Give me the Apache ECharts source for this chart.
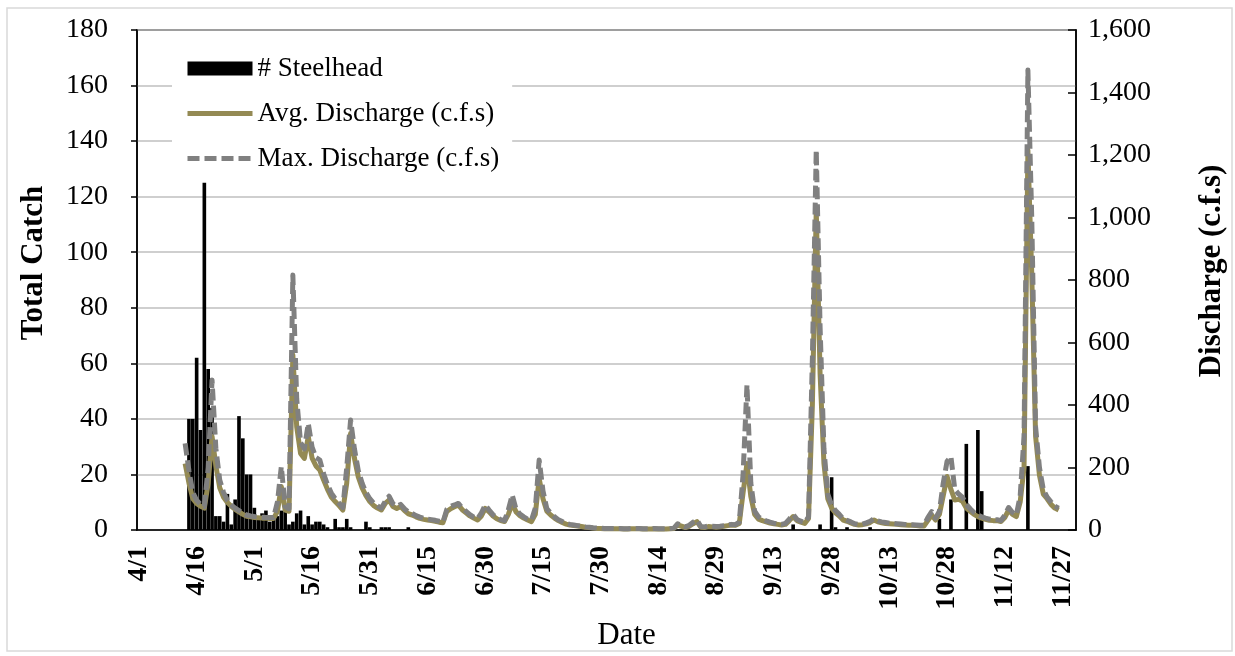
<!DOCTYPE html>
<html><head><meta charset="utf-8">
<script src="https://cdn.jsdelivr.net/npm/echarts@6/dist/echarts.min.js"></script>
<style>html,body{margin:0;padding:0;background:#fff}#c{width:1235px;height:656px}</style>
</head><body><div id="c"></div>
<script>
// Calendar categories: one per day, 4/1 .. 11/30
const months = [['4', 30], ['5', 31], ['6', 30], ['7', 31], ['8', 31], ['9', 30], ['10', 31], ['11', 30]];
const dates = [];
months.forEach(([m, n]) => { for (let d = 1; d <= n; d++) dates.push(m + '/' + d); });

// Daily data start on this date
const firstDataDate = '4/13';

// # Steelhead (daily catch), 4/13 .. 11/26
const steelhead = [
  0,40,40,62,36,125,58,44,5,5,
  3,13,2,11,41,33,20,20,8,4,
  6,7,3,4,5,7,7,2,3,6,
  7,2,5,2,3,3,2,1,0,4,
  1,1,4,1,0,0,0,3,1,0,
  0,1,1,1,0,0,0,0,1,0,
  0,0,0,0,0,0,0,0,0,0,
  0,0,0,0,0,0,0,0,0,0,
  0,0,0,0,0,0,0,0,0,0,
  0,0,0,0,0,0,0,0,0,0,
  0,0,0,0,0,0,0,0,0,0,
  0,0,0,0,0,0,0,0,0,0,
  0,0,0,0,0,0,0,0,0,0,
  0,0,0,0,0,0,0,0,0,0,
  0,0,0,0,0,0,0,0,0,0,
  0,0,0,0,0,0,0,0,2,0,
  0,0,0,0,0,2,0,0,19,1,
  0,0,1,0,0,0,0,0,1,0,
  0,0,0,0,0,0,0,0,0,0,
  0,0,0,0,0,0,4,0,0,11,
  0,0,0,31,0,0,36,14,0,0,
  0,0,0,0,0,0,0,0,0,23,
  0,0,0,0,0,0,0,0
];

// Avg. Discharge (c.f.s), 4/13 .. 11/26
const avgDischarge = [
  213,150,100,85,76,70,150,300,205,135,
  105,88,76,66,58,50,44,42,40,39,
  38,38,37,37,60,139,64,60,560,330,
  245,229,299,230,205,192,160,130,105,91,
  78,64,150,309,230,170,135,110,91,78,
  70,64,85,96,75,69,75,62,52,48,
  42,37,34,32,30,28,25,23,59,68,
  74,80,65,55,45,38,32,45,69,58,
  45,36,30,27,50,85,58,46,38,32,
  27,50,165,100,60,48,38,30,24,19,
  16,14,13,11,9,8,6,5,5,4,
  4,4,4,4,3,3,4,4,4,3,
  3,3,4,3,3,3,4,5,16,12,
  8,12,20,27,9,8,11,10,9,10,
  12,14,16,15,21,120,213,107,50,35,
  30,26,22,20,18,16,18,30,43,30,
  25,21,37,400,1024,500,213,100,70,55,
  45,32,28,23,18,16,17,20,24,32,
  26,23,21,20,19,18,17,16,15,15,
  14,13,13,30,48,32,50,110,171,130,
  96,98,92,70,60,50,43,38,34,31,
  30,30,27,40,64,50,43,90,200,1216,
  821,300,175,115,100,82,70,64
];

// Max. Discharge (c.f.s), 4/13 .. 11/26
const maxDischarge = [
  277,190,120,95,82,75,200,480,260,160,
  120,95,80,70,62,54,48,45,43,42,
  41,40,40,40,90,203,75,68,816,420,
  280,260,341,265,232,224,180,145,118,100,
  86,72,200,352,260,190,150,120,100,86,
  77,70,92,108,84,76,82,68,58,53,
  46,41,37,35,33,31,28,25,66,76,
  80,85,70,60,49,41,36,55,80,64,
  49,40,33,30,65,112,66,51,42,35,
  31,70,224,125,68,54,42,33,27,21,
  18,16,14,12,10,9,7,6,6,5,
  5,5,5,5,4,4,5,5,5,4,
  4,4,5,4,4,4,5,6,20,15,
  10,15,25,32,11,10,13,12,11,12,
  14,16,18,17,25,180,464,150,60,42,
  34,29,25,22,20,18,21,35,50,34,
  28,24,42,550,1216,650,260,115,80,62,
  50,36,31,26,20,18,19,23,28,36,
  29,26,24,22,21,20,19,18,17,17,
  16,15,15,40,59,38,60,150,220,235,
  130,115,105,82,68,56,48,42,38,35,
  33,33,30,48,72,56,48,110,300,1472,
  1000,330,200,130,105,90,76,70
];

const seriesNames = ['# Steelhead', 'Avg. Discharge (c.f.s)', 'Max. Discharge (c.f.s)'];
const axisTitles = { left: 'Total Catch', right: 'Discharge (c.f.s)', x: 'Date' };

const off = dates.indexOf(firstDataDate);
const pairs = arr => arr.map((v, i) => [dates[off + i], v]);

const FONT = 'Liberation Serif';
const AVG_COLOR = '#948A54';
const MAX_COLOR = '#808080';
const LINE_W = 5;
const DASH = [12, 5];
const noSymbol = { color: 'rgba(0,0,0,0)', borderColor: 'rgba(0,0,0,0)', borderWidth: 0, opacity: 0 };

const chart = echarts.init(document.getElementById('c'), null, { renderer: 'canvas' });
chart.setOption({
  animation: false,
  backgroundColor: '#fff',
  graphic: [{
    type: 'rect', silent: true, z: -10,
    shape: { x: 7, y: 8, width: 1225, height: 643 },
    style: { fill: 'none', stroke: '#D9D9D9', lineWidth: 1.5 }
  }],
  grid: { left: 137, right: 158, top: 30, bottom: 126, show: true, borderColor: '#000', borderWidth: 1.5, backgroundColor: 'transparent' },
  legend: {
    orient: 'vertical', left: 172, top: 50,
    padding: [5, 13, 8, 13],
    backgroundColor: '#fff',
    itemWidth: 65, itemHeight: 14, itemGap: 18,
    textStyle: { fontFamily: FONT, fontSize: 27, color: '#000', lineHeight: 27 },
    data: [
      { name: seriesNames[0], icon: 'rect' },
      { name: seriesNames[1], itemStyle: noSymbol, lineStyle: { color: AVG_COLOR, width: LINE_W } },
      { name: seriesNames[2], itemStyle: noSymbol, lineStyle: { color: MAX_COLOR, width: LINE_W, type: DASH } }
    ]
  },
  xAxis: {
    type: 'category', data: dates, boundaryGap: true,
    name: axisTitles.x, nameLocation: 'middle', nameGap: 90,
    nameTextStyle: { fontFamily: FONT, fontSize: 31, color: '#000', padding: [0, 0, 0, 40] },
    axisLine: { lineStyle: { color: '#000', width: 1.5 } },
    axisTick: { interval: 4, length: 7, lineStyle: { color: '#000', width: 1.5 } },
    axisLabel: { interval: 14, rotate: 90, margin: 16, fontFamily: FONT, fontSize: 28, fontWeight: 'bold', color: '#000' },
    splitLine: { show: false }
  },
  yAxis: [{
    type: 'value', min: 0, max: 180, interval: 20, position: 'left',
    name: axisTitles.left, nameLocation: 'middle', nameGap: 88, nameRotate: 90,
    nameTextStyle: { fontFamily: FONT, fontSize: 31, fontWeight: 'bold', color: '#000', padding: [0, 0, 0, 34] },
    axisLine: { show: true, lineStyle: { color: '#000', width: 1.5 } },
    axisTick: { show: true, length: 6, lineStyle: { color: '#000', width: 1.5 } },
    axisLabel: { margin: 29, fontFamily: FONT, fontSize: 28, color: '#000' },
    splitLine: { show: true, lineStyle: { color: '#BFBFBF', width: 1.5 } }
  }, {
    type: 'value', min: 0, max: 1600, interval: 200, position: 'right',
    name: axisTitles.right, nameLocation: 'middle', nameGap: 120, nameRotate: 90,
    nameTextStyle: { fontFamily: FONT, fontSize: 31, fontWeight: 'bold', color: '#000', padding: [0, 0, 0, 18] },
    axisLine: { show: true, lineStyle: { color: '#000', width: 1.5 } },
    axisTick: { show: true, inside: true, length: 8, lineStyle: { color: '#000', width: 1.5 } },
    axisLabel: { margin: 12, fontFamily: FONT, fontSize: 28, color: '#000', formatter: v => v.toLocaleString('en-US') },
    splitLine: { show: false }
  }],
  series: [{
    name: seriesNames[0], type: 'bar', yAxisIndex: 0,
    barCategoryGap: '6%',
    itemStyle: { color: '#000' },
    data: pairs(steelhead)
  }, {
    name: seriesNames[1], type: 'line', yAxisIndex: 1,
    symbol: 'none', showSymbol: false,
    lineStyle: { color: AVG_COLOR, width: LINE_W, join: 'round' },
    itemStyle: { color: AVG_COLOR },
    emphasis: { disabled: true },
    data: pairs(avgDischarge)
  }, {
    name: seriesNames[2], type: 'line', yAxisIndex: 1,
    symbol: 'none', showSymbol: false,
    lineStyle: { color: MAX_COLOR, width: LINE_W, type: DASH, join: 'round' },
    itemStyle: { color: MAX_COLOR },
    emphasis: { disabled: true },
    data: pairs(maxDischarge)
  }]
});
</script></body></html>
